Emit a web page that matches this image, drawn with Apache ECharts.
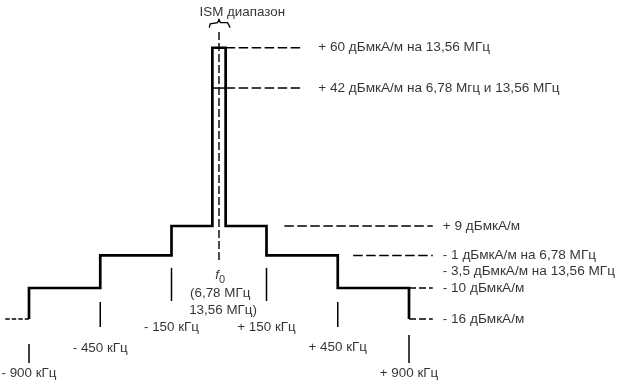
<!DOCTYPE html>
<html><head><meta charset="utf-8">
<script src="https://cdn.jsdelivr.net/npm/echarts@6/dist/echarts.min.js"></script>
<style>html,body{margin:0;padding:0;background:#fff}#c{width:617px;height:381px}</style>
</head><body><div id="c"></div><script>
// Frequency offsets from f0 (kHz) and their tick labels
const freqKHz = [-900, -450, -150, 150, 450, 900];
const freqLabels = ['- 900 кГц', '- 450 кГц', '- 150 кГц', '+ 150 кГц', '+ 450 кГц', '+ 900 кГц'];
// Schematic (not-to-scale) axis slot of each frequency offset
const freqSlot = [-8, -5, -2, 2, 5, 8];
const ismHalfSlot = 0.28;

// Field strength limits (dBμA/m)
const levelDb = [60, 42, 9, -1, -10, -16];
const levelLabels = [
  '+ 60 дБмкА/м на 13,56 МГц',
  '+ 42 дБмкА/м на 6,78 Мгц и 13,56 МГц',
  '+ 9 дБмкА/м',
  '- 1 дБмкА/м на 6,78 МГц\n- 3,5 дБмкА/м на 13,56 МГц',
  '- 10 дБмкА/м',
  '- 16 дБмкА/м'
];
// Schematic (not-to-scale) axis row of each level
const levelRow = [8.75, 7.45, 3, 2.05, 1, 0];

// Mask level in each band, left to right (outside -900, -900..-450, -450..-150, -150..ISM, ISM, ISM..150, 150..450, 450..900, outside 900)
const bandLevelDb = [-16, -10, -1, 9, 60, 9, -1, -10, -16];

const centerTitle = 'ISM диапазон';
const f0Text = ['(6,78 МГц', '13,56 МГц)'];

// ---------- layout helpers (not data) ----------
const rowOf = db => levelRow[levelDb.indexOf(db)];
const edges = [-9, freqSlot[0], freqSlot[1], freqSlot[2], -ismHalfSlot, ismHalfSlot, freqSlot[3], freqSlot[4], freqSlot[5], 9];
const leaderFrom = [ismHalfSlot, ismHalfSlot, 2.75, 5.65, 8, 8];
const leaderTo = [3.42, 3.42, 9, 9, 9, 9];
const leaderGap = [18, 18, 10, 10, 10, 10];
const tickTop = [-0.81, 0.55, 1.65, 1.65, 0.55, -0.52];
const tickBot = [-1.42, -0.26, 0.58, 0.58, -0.26, -1.42];
const tickLabRow = [-1.74, -0.94, -0.26, -0.26, -0.92, -1.74];

// Mask step polyline (solid part)
const maskPts = [];
for (let i = 1; i < bandLevelDb.length - 1; i++) {
  const r = rowOf(bandLevelDb[i]);
  if (i === 1) maskPts.push([edges[1], rowOf(bandLevelDb[0])]);
  maskPts.push([edges[i], r]);
  maskPts.push([edges[i + 1], r]);
  if (i === bandLevelDb.length - 2) maskPts.push([edges[i + 1], rowOf(bandLevelDb[i + 1])]);
}

const series = [];
const K = '#000';
function seg(pts, width, type, z) {
  series.push({ type: 'line', data: pts, symbol: 'none', silent: true, z: z || 2,
    lineStyle: { color: K, width: width, type: type || 'solid', cap: 'butt', join: 'miter' }, animation: false });
}
seg(maskPts, 2.7, 'solid', 5);
// outer bands (dashed)
seg([[edges[0], rowOf(bandLevelDb[0])], [edges[1], rowOf(bandLevelDb[0])]], 1.5, [4.5, 2]);
// inner +42 line inside the ISM block
seg([[-ismHalfSlot, rowOf(42)], [ismHalfSlot, rowOf(42)]], 1.5, 'solid');
// leaders
levelDb.forEach((db, i) => {
  const r = levelRow[i];
  const dashType = (db === -10 || db === -16) ? [7, 3] : [9.5, 3.5];
  seg([[leaderFrom[i], r], [leaderTo[i], r]], 1.5, dashType);
});
// centre line f0
seg([[0, 9.26], [0, 1.84]], 1.4, [8, 3]);
// frequency ticks
freqSlot.forEach((s, i) => seg([[s, tickTop[i]], [s, tickBot[i]]], 1.5, 'solid'));
// ISM brace
seg([[-0.41, 9.40], [-0.37, 9.52], [-0.30, 9.56], [-0.06, 9.56], [0, 9.66], [0.06, 9.56], [0.36, 9.56], [0.43, 9.52], [0.47, 9.40]], 1.3, 'solid');

const font = { fontFamily: 'Liberation Sans, Arial, sans-serif', fontSize: 13.6, color: '#000' };
const fontF = { fontFamily: 'Liberation Sans, Arial, sans-serif', fontSize: 13.4, color: '#000' };
// level labels
series.push({ type: 'scatter', symbolSize: 0, silent: true, animation: false,
  data: levelDb.map((db, i) => ({ value: [leaderTo[i], levelRow[i]],
    label: { show: true, position: 'right', distance: leaderGap[i], formatter: levelLabels[i],
      lineHeight: 16, offset: [0, levelLabels[i].includes('\n') ? 8 : 0], ...font } })) });
// frequency labels
series.push({ type: 'scatter', symbolSize: 0, silent: true, animation: false,
  data: freqKHz.map((f, i) => ({ value: [freqSlot[i], tickLabRow[i]],
    label: { show: true, position: 'inside', formatter: freqLabels[i], ...fontF } })) });
// f0 + ISM title
series.push({ type: 'scatter', symbolSize: 0, silent: true, animation: false,
  data: [
    { value: [0.05, 1.42], label: { show: true, position: 'inside', formatter: '{f|f}{s|0}',
      rich: { f: { fontFamily: 'Liberation Sans', fontSize: 13.4, fontStyle: 'italic', color: '#000' },
              s: { fontFamily: 'Liberation Sans', fontSize: 11, color: '#000', padding: [9, 0, 0, 0] } } } },
    { value: [0.05, 0.84], label: { show: true, position: 'inside', formatter: f0Text[0], ...fontF } },
    { value: [0.17, 0.29], label: { show: true, position: 'inside', formatter: f0Text[1], ...fontF } },
    { value: [-0.82, 9.9], label: { show: true, position: 'right', distance: 0, formatter: centerTitle, ...fontF } }
  ] });

const chart = echarts.init(document.getElementById('c'), null, { renderer: 'canvas' });
chart.setOption({
  backgroundColor: '#fff',
  animation: false,
  grid: { left: 5.25, width: 427.5, top: 0, bottom: 0 },
  xAxis: { type: 'value', min: -9, max: 9, show: false },
  yAxis: { type: 'value', min: -2, max: 10.29, show: false },
  series: series
});
</script></body></html>
